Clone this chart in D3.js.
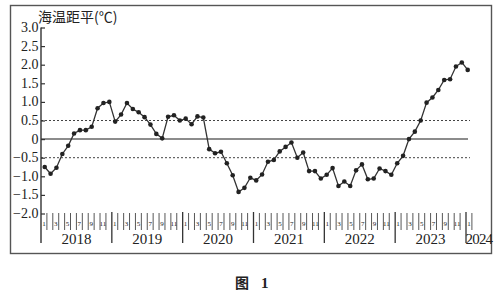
<!DOCTYPE html>
<html>
<head>
<meta charset="utf-8">
<script src="https://cdn.jsdelivr.net/npm/d3@7"></script>
<style>
  html, body { margin: 0; padding: 0; background: #fff; }
  svg { display: block; }
  .num { font-family: "Liberation Serif", "DejaVu Serif", serif; fill: #222; }
  .cjk { font-family: "Noto Sans CJK SC", sans-serif; fill: #222; }
</style>
</head>
<body>
<div id="chart"></div>
<script>
// monthly sea temperature anomaly, Jan 2018 .. Jan 2024
const years = ["2018", "2019", "2020", "2021", "2022", "2023", "2024"];
const monthLabels = ["1", "3", "5", "7", "9", "11"];
const yTickValues = [3.0, 2.5, 2.0, 1.5, 1.0, 0.5, 0, -0.5, -1.0, -1.5, -2.0];
const yTickLabels = ["3.0", "2.5", "2.0", "1.5", "1.0", "0.5", "0", "\u22120.5", "\u22121.0", "\u22121.5", "\u22122.0"];
const refLines = [0.5, -0.5];

const anomaly2018 = [-0.75, -0.93, -0.77, -0.40, -0.18, 0.15, 0.24, 0.24, 0.33, 0.83, 0.97, 1.00];
const anomaly2019 = [0.47, 0.66, 0.97, 0.81, 0.72, 0.59, 0.39, 0.14, 0.02, 0.60, 0.64, 0.50];
const anomaly2020 = [0.55, 0.40, 0.61, 0.58, -0.27, -0.38, -0.34, -0.65, -0.97, -1.42, -1.31, -1.04];
const anomaly2021 = [-1.11, -0.95, -0.61, -0.56, -0.33, -0.21, -0.09, -0.50, -0.36, -0.86, -0.86, -1.06];
const anomaly2022 = [-0.96, -0.78, -1.26, -1.14, -1.26, -0.84, -0.68, -1.08, -1.06, -0.79, -0.86, -0.96];
const anomaly2023 = [-0.65, -0.45, 0.00, 0.20, 0.50, 0.98, 1.12, 1.32, 1.59, 1.61, 1.95, 2.06];
const anomaly2024 = [1.86];

const values = [].concat(anomaly2018, anomaly2019, anomaly2020, anomaly2021,
                         anomaly2022, anomaly2023, anomaly2024);

const width = 500, height = 298;

const svg = d3.select("#chart").append("svg")
    .attr("width", width)
    .attr("height", height);

// outer frame
svg.append("rect")
    .attr("x", 10.5).attr("y", 5.5)
    .attr("width", 481).attr("height", 248)
    .attr("fill", "none")
    .attr("stroke", "#555")
    .attr("stroke-width", 1.4);

// month axis (months counted from Jan 2018)
const xMonth = d3.scaleLinear().domain([0, 72]).range([41, 466]);
// data points sit slightly right of the month ticks
const xPoint = d3.scaleLinear().domain([0, values.length - 1]).range([44.7, 467.7]);
const y = d3.scaleLinear().domain([-2, 3]).range([213.5, 27.5]);

// reference lines
svg.append("line")
    .attr("x1", xMonth(0)).attr("x2", 468)
    .attr("y1", y(0)).attr("y2", y(0))
    .attr("stroke", "#666").attr("stroke-width", 1.5);

svg.selectAll(".ref").data(refLines).join("line")
    .attr("class", "ref")
    .attr("x1", xMonth(0)).attr("x2", 470)
    .attr("y1", d => y(d)).attr("y2", d => y(d))
    .attr("stroke", "#444").attr("stroke-width", 1)
    .attr("stroke-dasharray", "2,2");

// y axis
const yAxis = d3.axisRight(y)
    .tickValues(yTickValues)
    .tickSize(4)
    .tickFormat("");
const gy = svg.append("g")
    .attr("transform", `translate(${xMonth(0)},0)`)
    .call(yAxis);
gy.select(".domain").remove();
gy.selectAll(".tick line").attr("stroke", "#333").attr("stroke-width", 1.2);

svg.append("line")
    .attr("x1", xMonth(0)).attr("x2", xMonth(0))
    .attr("y1", y(3)).attr("y2", 243)
    .attr("stroke", "#333").attr("stroke-width", 1.4);

svg.selectAll(".ylab").data(yTickValues).join("text")
    .attr("class", "ylab num")
    .attr("x", 38.5)
    .attr("y", d => y(d) + 4.5)
    .attr("text-anchor", "end")
    .attr("font-size", 14)
    .text((d, i) => yTickLabels[i]);

// month ticks
const monthTicks = d3.range(0, 74);
svg.selectAll(".mtick").data(monthTicks.filter(m => m % 12 !== 0)).join("line")
    .attr("class", "mtick")
    .attr("x1", d => xMonth(d)).attr("x2", d => xMonth(d))
    .attr("y1", 213).attr("y2", 230)
    .attr("stroke", "#444").attr("stroke-width", 0.9);

// year separators
svg.selectAll(".ytick").data(d3.range(12, 73, 12)).join("line")
    .attr("class", "ytick")
    .attr("x1", d => xMonth(d)).attr("x2", d => xMonth(d))
    .attr("y1", 212).attr("y2", 243)
    .attr("stroke", "#333").attr("stroke-width", 1.3);

// month labels (odd months)
const monthCells = [];
years.forEach((yr, k) => {
    monthLabels.forEach(lab => {
        const m = k * 12 + (+lab - 1);
        if (m <= 72) monthCells.push({ m: m, lab: lab });
    });
});
svg.selectAll(".mlab").data(monthCells).join("text")
    .attr("class", "mlab num")
    .attr("x", d => xMonth(d.m + 0.5))
    .attr("y", 226)
    .attr("text-anchor", "middle")
    .attr("font-size", 7)
    .text(d => d.lab);

// year labels
svg.selectAll(".ylab2").data(years).join("text")
    .attr("class", "ylab2 num")
    .attr("x", (d, i) => i < 6 ? xMonth(i * 12 + 6) : xMonth(72) - 0.5)
    .attr("y", 244)
    .attr("text-anchor", (d, i) => i < 6 ? "middle" : "start")
    .attr("font-size", 15)
    .attr("letter-spacing", (d, i) => i < 6 ? 0 : -0.8)
    .text(d => d);

// data line
const line = d3.line()
    .x((d, i) => xPoint(i))
    .y(d => y(d));

svg.append("path")
    .datum(values)
    .attr("fill", "none")
    .attr("stroke", "#333")
    .attr("stroke-width", 1.3)
    .attr("d", line);

svg.selectAll(".pt").data(values).join("circle")
    .attr("class", "pt")
    .attr("cx", (d, i) => xPoint(i))
    .attr("cy", d => y(d))
    .attr("r", 2.3)
    .attr("fill", "#222");

// axis title
svg.append("text")
    .attr("class", "cjk")
    .attr("x", 38)
    .attr("y", 21.5)
    .attr("font-size", 14)
    .text("海温距平(℃)");

// caption
svg.append("text")
    .attr("class", "cjk")
    .attr("x", 235)
    .attr("y", 288)
    .attr("font-size", 14)
    .attr("font-weight", "bold")
    .text("图");
svg.append("text")
    .attr("class", "num")
    .attr("x", 261)
    .attr("y", 288)
    .attr("font-size", 15)
    .attr("font-weight", "bold")
    .text("1");
</script>
</body>
</html>
